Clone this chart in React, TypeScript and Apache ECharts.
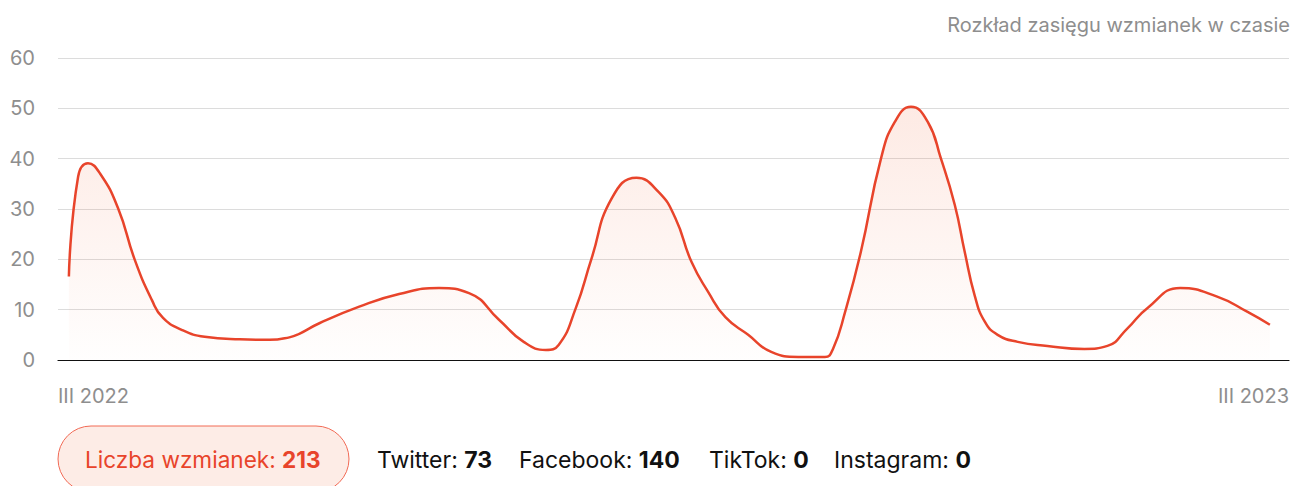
import React, { useEffect, useRef } from "react";
import * as echarts from "echarts";

// days counted from the left edge of the time axis (III 2022 .. III 2023)
const axisEndDay = 373.5;
const xLabels = ["III 2022", "III 2023"];
const dayOffsets = [
  3.3, 6.1, 9.1, 12.7, 18.2, 23.3, 28.5, 31.8, 37.5, 44.5,
  55.1, 64.2, 70.2, 73.2, 79.3, 91.4, 103.5, 115.6, 124.7, 133.8,
  141.3, 148.0, 151.9, 157.1, 161.9, 168.0, 175.5, 182.2, 187.3, 192.2,
  197.3, 202.5, 209.4, 216.4, 224.6, 232.7, 235.2, 238.8, 243.6, 249.7,
  253.9, 258.8, 263.9, 267.9, 272.1, 275.1, 278.1, 281.2, 285.1, 291.2,
  300.2, 311.4, 318.4, 324.5, 330.5, 340.5, 351.7, 360.8, 367.7,
];
const mentionReach = [
  16.6, 36.4, 39.1, 37.1, 30.2, 19.9, 11.9, 8.4, 6.0, 4.6,
  4.1, 4.0, 4.5, 5.2, 7.3, 10.6, 13.1, 14.3, 13.3, 8.0,
  3.6, 2.0, 3.0, 10.3, 20.2, 32.1, 36.2, 33.4, 28.2, 19.5,
  13.5, 8.5, 5.0, 1.6, 0.6, 0.6, 2.3, 9.5, 21.5, 40.0,
  47.3, 50.3, 47.3, 40.0, 30.8, 21.5, 12.9, 7.6, 5.0, 3.6,
  2.8, 2.2, 2.8, 6.3, 10.3, 14.3, 12.6, 9.6, 7.0,
];

const title = "Rozkład zasięgu wzmianek w czasie";
const totalLabel = "Liczba wzmianek: ";
const totalValue = 213;
const sources = ["Twitter", "Facebook", "TikTok", "Instagram"];
const sourceValues = [73, 140, 0, 0];
const sourceX = [377, 519, 709, 834];

const FONT = "Inter, 'Noto Sans', sans-serif";
const RED = "#e8442b";

export default function App() {
  const ref = useRef<HTMLDivElement>(null);
  useEffect(() => {
    if (!ref.current) return;
    const chart = echarts.init(ref.current, null, { renderer: "svg" });
    const data = dayOffsets.map((d, i) => [d, mentionReach[i]]);
    const sourceTexts = sources.map((s, i) => ({
      type: "text",
      left: sourceX[i],
      top: 448,
      style: {
        text: `{n|${s}: }{v|${sourceValues[i]}}`,
        rich: {
          n: { fontFamily: FONT, fontSize: 23, fill: "#111", fontWeight: 400 },
          v: { fontFamily: FONT, fontSize: 23, fill: "#111", fontWeight: 700 },
        },
      },
    }));
    chart.setOption({
      animation: false,
      textStyle: { fontFamily: FONT },
      title: {
        text: title,
        right: 2,
        top: 15,
        padding: 0,
        textStyle: { fontFamily: FONT, fontSize: 20, fontWeight: 400, color: "#8e8e8e" },
      },
      grid: { left: 58, right: 0, top: 58, bottom: 126, containLabel: false },
      xAxis: {
        type: "value",
        min: 0,
        max: axisEndDay,
        interval: axisEndDay,
        axisLine: { show: true, lineStyle: { color: "#111", width: 1.2 } },
        axisTick: { show: false },
        splitLine: { show: false },
        axisLabel: {
          margin: 26,
          fontFamily: FONT,
          fontSize: 20,
          color: "#8e8e8e",
          showMinLabel: true,
          showMaxLabel: true,
          alignMinLabel: "left",
          alignMaxLabel: "right",
          formatter: (v: number) => (v === 0 ? xLabels[0] : xLabels[1]),
        },
      },
      yAxis: {
        type: "value",
        min: 0,
        max: 60,
        interval: 10,
        axisLine: { show: false },
        axisTick: { show: false },
        splitLine: { lineStyle: { color: "#dcdcdc", width: 1 } },
        axisLabel: { margin: 23, fontFamily: FONT, fontSize: 20, color: "#8e8e8e" },
      },
      series: [
        {
          type: "line",
          data,
          smooth: 0.5,
          symbol: "none",
          lineStyle: { color: RED, width: 2.5 },
          areaStyle: {
            color: new echarts.graphic.LinearGradient(0, 0, 0, 1, [
              { offset: 0, color: "rgba(242,105,60,0.2)" },
              { offset: 1, color: "rgba(242,105,60,0.01)" },
            ]),
          },
        },
      ],
      graphic: [
        {
          type: "rect",
          shape: { x: 58, y: 426, width: 291, height: 66, r: 33 },
          style: { fill: "#fdece6", stroke: "#f26a55", lineWidth: 1 },
        },
        {
          type: "text",
          left: 85,
          top: 448,
          style: {
            text: `{n|${totalLabel}}{v|${totalValue}}`,
            rich: {
              n: { fontFamily: FONT, fontSize: 22.6, fill: RED, fontWeight: 400 },
              v: { fontFamily: FONT, fontSize: 22.6, fill: RED, fontWeight: 700 },
            },
          },
        },
        ...sourceTexts,
      ],
    });
    return () => chart.dispose();
  }, []);
  return (
    <div
      ref={ref}
      style={{ position: "fixed", left: 0, top: 0, width: 1292, height: 486, background: "#fff" }}
    />
  );
}
